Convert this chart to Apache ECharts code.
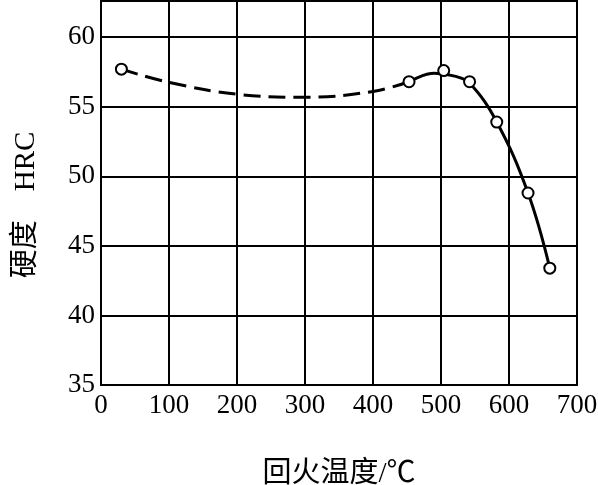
<!DOCTYPE html>
<html>
<head>
<meta charset="utf-8">
<script src="https://cdn.jsdelivr.net/npm/echarts@6/dist/echarts.min.js"></script>
<style>html,body{margin:0;padding:0;background:#fff}#c{width:598px;height:485px}</style>
</head>
<body>
<div id="c"></div>
<script>
// Measured points (tempering temperature °C, hardness HRC)
const pointTemps = [30, 453, 504, 542, 582, 628, 660];
const pointHRC   = [57.7, 56.8, 57.6, 56.8, 53.9, 48.8, 43.4];
// Dashed (estimated) part of the curve
const dashTemps = [30, 100, 200, 300, 400, 453];
const dashHRC   = [57.7, 56.75, 55.9, 55.68, 56.1, 56.8];
// Solid part of the curve
const solidTemps = [453, 490, 520, 542, 582, 628, 660];
const solidHRC   = [56.8, 57.4, 57.2, 56.7, 53.9, 48.8, 43.4];
// Axis ticks
const xTicks = [0, 100, 200, 300, 400, 500, 600, 700];
const yTicks = [35, 40, 45, 50, 55, 60];

const zip = (a, b) => a.map((v, i) => [v, b[i]]);
const serif = '"Liberation Serif", "Noto Sans CJK SC", serif';

const chart = echarts.init(document.getElementById('c'), null, {renderer: 'canvas'});
chart.setOption({
  animation: false,
  backgroundColor: '#fff',
  grid: {left: 101, right: 21, top: 1, bottom: 100, show: true, borderColor: '#000', borderWidth: 2,
    containLabel: false, outerBoundsMode: 'none'},
  xAxis: {
    type: 'value', min: xTicks[0], max: xTicks[xTicks.length - 1], interval: 100,
    name: '回火温度/℃', nameLocation: 'middle', nameGap: 75,
    nameTextStyle: {fontFamily: serif, fontSize: 29, color: '#000'},
    axisLine: {show: true, lineStyle: {color: '#000', width: 2}},
    axisTick: {show: false},
    axisLabel: {fontFamily: serif, fontSize: 27, color: '#000', margin: 7},
    splitLine: {show: true, lineStyle: {color: '#000', width: 2}}
  },
  yAxis: {
    type: 'value', min: yTicks[0], max: 62.6, interval: 5,
    axisLine: {show: true, lineStyle: {color: '#000', width: 2}},
    axisTick: {show: false},
    axisLabel: {fontFamily: serif, fontSize: 27, color: '#000', margin: 6,
      formatter: v => yTicks.includes(v) ? String(v) : ''},
    splitLine: {show: true, lineStyle: {color: '#000', width: 2}}
  },
  graphic: [{
    type: 'text', x: 26, y: 205, rotation: Math.PI / 2,
    style: {text: '硬度　HRC', fontFamily: serif, fontSize: 29, fill: '#000',
      textAlign: 'center', textVerticalAlign: 'middle'}
  }],
  series: [
    {type: 'line', data: zip(dashTemps, dashHRC), smooth: 0.4, showSymbol: false, z: 3,
      lineStyle: {color: '#000', width: 3, type: [17, 8]}},
    {type: 'line', data: zip(solidTemps, solidHRC), smooth: 0.4, showSymbol: false, z: 3,
      lineStyle: {color: '#000', width: 3}},
    {type: 'scatter', data: zip(pointTemps, pointHRC), symbol: 'circle', symbolSize: 11, z: 5,
      itemStyle: {color: '#fff', borderColor: '#000', borderWidth: 2, opacity: 1}}
  ]
});
</script>
</body>
</html>
